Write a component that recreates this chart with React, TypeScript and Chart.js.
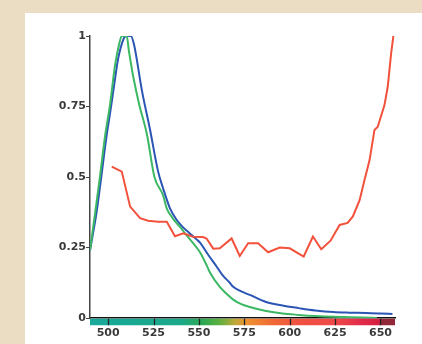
import React, { useEffect, useRef } from "react";
import { Chart, registerables } from "chart.js";

Chart.register(...registerables);

// Wavelengths (nm) and normalized values for each curve
const greenNm = [490, 492.9, 495.6, 498.4, 501, 503.8, 506, 507.5, 510.2, 511.5, 514, 517, 521.4, 525.5, 530.2, 532.2, 536, 539.6, 543, 546.7, 550.5, 554.4, 556, 561.5, 565.4, 568.7, 573, 578, 587, 596, 605, 614, 624, 634, 640, 648];
const greenVal = [0.24, 0.376, 0.507, 0.65, 0.755, 0.897, 0.97, 1.0, 1.0, 0.944, 0.85, 0.76, 0.65, 0.5, 0.436, 0.39, 0.35, 0.323, 0.295, 0.266, 0.234, 0.185, 0.162, 0.11, 0.085, 0.066, 0.05, 0.039, 0.025, 0.016, 0.011, 0.007, 0.004, 0.003, 0.002, 0.0];

const blueNm = [490, 493.5, 496.2, 499, 501.6, 504.5, 505.5, 508.5, 510, 512.5, 514.3, 518.5, 523, 527.5, 530.2, 534, 537.5, 541, 545, 549, 550.5, 555, 560, 563, 567, 568.7, 573, 578, 587, 596, 605, 614, 624, 633, 642, 650, 656.6];
const blueVal = [0.24, 0.37, 0.5, 0.64, 0.75, 0.88, 0.92, 0.99, 1.0, 1.0, 0.968, 0.81, 0.67, 0.52, 0.461, 0.39, 0.35, 0.323, 0.3, 0.277, 0.268, 0.225, 0.18, 0.152, 0.125, 0.112, 0.095, 0.082, 0.057, 0.044, 0.035, 0.027, 0.021, 0.019, 0.018, 0.016, 0.014];

const redNm = [502, 507.5, 512.1, 517.6, 522, 527.5, 532.3, 536.8, 541.4, 546.7, 552.2, 554.2, 557.9, 561.5, 568, 572.5, 577.1, 582.6, 588.1, 594.5, 600, 607.7, 612.8, 617.4, 622.5, 627.5, 631.9, 634.8, 638.5, 641.2, 644, 646.7, 648.5, 652.2, 654, 655.9, 657.1];
const redVal = [0.537, 0.519, 0.395, 0.354, 0.345, 0.341, 0.341, 0.29, 0.3, 0.288, 0.287, 0.282, 0.246, 0.247, 0.282, 0.22, 0.265, 0.265, 0.233, 0.25, 0.247, 0.218, 0.289, 0.244, 0.274, 0.33, 0.337, 0.36, 0.418, 0.489, 0.56, 0.667, 0.678, 0.755, 0.82, 0.94, 1.0];

const xTickValues = [500, 525, 550, 575, 600, 625, 650];
const yTickValues = [0, 0.25, 0.5, 0.75, 1];

// Spectrum colour bar stops (nm, colour)
const spectrumNm = [490, 540, 552, 562, 570, 577, 590, 605, 625, 640, 649.5, 650.5, 658];
const spectrumColor = ["#17a99a", "#1aa98a", "#2aa852", "#62b03e", "#c0a838", "#f09030", "#f06a35", "#f05240", "#f04848", "#e02a48", "#d42040", "#922838", "#922838"];

const X_MIN = 490;
const X_MAX = 658;

const toPoints = (xs: number[], ys: number[]) => xs.map((x, i) => ({ x, y: ys[i] }));

const spectrumPlugin = {
  id: "spectrumBar",
  afterDraw(chart: any) {
    const { ctx, chartArea } = chart;
    const xs = chart.scales.x;
    const left = xs.getPixelForValue(X_MIN);
    const right = xs.getPixelForValue(X_MAX);
    const top = chartArea.bottom + 0.75;
    const h = 6.5;
    const grad = ctx.createLinearGradient(left, 0, right, 0);
    spectrumNm.forEach((nm, i) => {
      grad.addColorStop(Math.min(1, Math.max(0, (nm - X_MIN) / (X_MAX - X_MIN))), spectrumColor[i]);
    });
    ctx.save();
    ctx.fillStyle = grad;
    ctx.fillRect(left, top, right - left, h);
    ctx.strokeStyle = "#222";
    ctx.lineWidth = 1.3;
    xTickValues.forEach((v) => {
      const px = Math.round(xs.getPixelForValue(v)) + 0.5;
      ctx.beginPath();
      ctx.moveTo(px, top);
      ctx.lineTo(px, top + h);
      ctx.stroke();
    });
    ctx.restore();
  },
};

export default function App() {
  const ref = useRef<HTMLCanvasElement | null>(null);
  useEffect(() => {
    if (!ref.current) return;
    const font = { family: "'DejaVu Sans', sans-serif", size: 11, weight: "bold" as const };
    const chart = new Chart(ref.current, {
      type: "line",
      data: {
        datasets: [
          { label: "red", data: toPoints(redNm, redVal), borderColor: "#f2513c", borderWidth: 2, pointRadius: 0, tension: 0, order: 0 },
          { label: "green", data: toPoints(greenNm, greenVal), borderColor: "#3cb864", borderWidth: 2, pointRadius: 0, cubicInterpolationMode: "monotone", order: 1 },
          { label: "blue", data: toPoints(blueNm, blueVal), borderColor: "#2a55b4", borderWidth: 2, pointRadius: 0, cubicInterpolationMode: "monotone", order: 2 },
        ],
      },
      options: {
        responsive: false,
        animation: false,
        events: [],
        layout: { padding: { top: 36, right: 27, left: 0, bottom: 0 } },
        plugins: { legend: { display: false }, tooltip: { enabled: false } },
        scales: {
          x: {
            type: "linear",
            min: X_MIN,
            max: X_MAX,
            afterBuildTicks: (s: any) => {
              s.ticks = xTickValues.map((v) => ({ value: v }));
            },
            afterFit: (s: any) => {
              s.height = 26;
            },
            grid: { display: false, drawTicks: false },
            border: { display: true, color: "#111", width: 1.5 },
            ticks: { padding: 9, font, color: "#3a3a3a", autoSkip: false, maxRotation: 0, callback: (v: any) => String(v) },
          },
          y: {
            type: "linear",
            min: 0,
            max: 1,
            afterBuildTicks: (s: any) => {
              s.ticks = yTickValues.map((v) => ({ value: v }));
            },
            afterFit: (s: any) => {
              s.width = 90;
            },
            grid: { display: true, drawOnChartArea: false, drawTicks: true, tickLength: 4, color: "#444", lineWidth: 1 },
            border: { display: true, color: "#444", width: 1.5 },
            ticks: { padding: 0, font, color: "#3a3a3a", callback: (v: any) => String(v) },
          },
        },
      },
      plugins: [spectrumPlugin],
    });
    return () => chart.destroy();
  }, []);

  return (
    <div style={{ position: "fixed", left: 0, top: 0, width: 422, height: 344, background: "#ebdcc4", overflow: "hidden" }}>
      <div style={{ position: "absolute", left: 25, top: 13, width: 397, height: 331, background: "#ffffff" }} />
      <canvas ref={ref} width={422} height={344} style={{ position: "absolute", left: 0, top: 0, width: 422, height: 344 }} />
    </div>
  );
}
